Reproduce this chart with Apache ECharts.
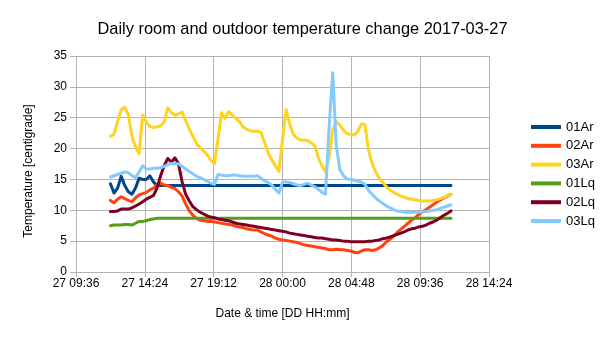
<!DOCTYPE html>
<html>
<head>
<meta charset="utf-8">
<script src="https://cdn.jsdelivr.net/npm/echarts@6/dist/echarts.min.js"></script>
<style>
html,body{margin:0;padding:0;background:#fff;}
#chart{width:605px;height:340px;}
</style>
</head>
<body>
<div id="chart"></div>
<script>
var titleText = 'Daily room and outdoor temperature change 2017-03-27';
var seriesNames = ['01Ar', '02Ar', '03Ar', '01Lq', '02Lq', '03Lq'];
var xTickLabels = ['27 09:36', '27 14:24', '27 19:12', '28 00:00', '28 04:48', '28 09:36', '28 14:24'];

var times = [
  '27 12:00','27 12:15','27 12:30','27 12:45','27 13:00','27 13:15','27 13:30','27 13:45','27 14:00','27 14:15','27 14:30','27 14:45',
  '27 15:00','27 15:15','27 15:30','27 15:45','27 16:00','27 16:15','27 16:30','27 16:45','27 17:00','27 17:15','27 17:30','27 17:45',
  '27 18:00','27 18:15','27 18:30','27 18:45','27 19:00','27 19:15','27 19:30','27 19:45','27 20:00','27 20:15','27 20:30','27 20:45',
  '27 21:00','27 21:15','27 21:30','27 21:45','27 22:00','27 22:15','27 22:30','27 22:45','27 23:00','27 23:15','27 23:30','27 23:45',
  '28 00:00','28 00:15','28 00:30','28 00:45','28 01:00','28 01:15','28 01:30','28 01:45','28 02:00','28 02:15','28 02:30','28 02:45',
  '28 03:00','28 03:15','28 03:30','28 03:45','28 04:00','28 04:15','28 04:30','28 04:45','28 05:00','28 05:15','28 05:30','28 05:45',
  '28 06:00','28 06:15','28 06:30','28 06:45','28 07:00','28 07:15','28 07:30','28 07:45','28 08:00','28 08:15','28 08:30','28 08:45',
  '28 09:00','28 09:15','28 09:30','28 09:45','28 10:00','28 10:15','28 10:30','28 10:45','28 11:00','28 11:15','28 11:30','28 11:45'
];

var ar01 = [
  14.3,12.8,13.6,15.5,14.0,13.0,12.6,13.6,15.2,15.0,15.0,15.6,
  14.6,14.0,14.0,14.0,14.0,14.0,14.0,14.0,14.0,14.0,14.0,14.0,
  14.0,14.0,14.0,14.0,14.0,14.0,14.0,14.0,14.0,14.0,14.0,14.0,
  14.0,14.0,14.0,14.0,14.0,14.0,14.0,14.0,14.0,14.0,14.0,14.0,
  14.0,14.0,14.0,14.0,14.0,14.0,14.0,14.0,14.0,14.0,14.0,14.0,
  14.0,14.0,14.0,14.0,14.0,14.0,14.0,14.0,14.0,14.0,14.0,14.0,
  14.0,14.0,14.0,14.0,14.0,14.0,14.0,14.0,14.0,14.0,14.0,14.0,
  14.0,14.0,14.0,14.0,14.0,14.0,14.0,14.0,14.0,14.0,14.0,14.0
];
var ar02 = [
  11.6,11.2,11.8,12.2,11.9,11.6,11.4,12.0,12.5,12.7,12.9,13.3,
  13.6,14.1,14.4,14.1,14.0,13.7,13.5,13.0,12.3,11.0,9.9,9.2,
  8.7,8.4,8.3,8.2,8.2,8.1,8.0,7.9,7.8,7.7,7.6,7.4,
  7.3,7.2,7.0,6.9,6.8,6.8,6.5,6.2,6.0,5.8,5.5,5.3,
  5.2,5.1,5.0,4.9,4.8,4.6,4.4,4.3,4.2,4.1,4.0,3.9,
  3.8,3.6,3.6,3.7,3.6,3.6,3.5,3.4,3.2,3.1,3.4,3.6,
  3.6,3.5,3.6,3.9,4.3,4.9,5.3,5.8,6.4,6.9,7.4,7.9,
  8.4,8.8,9.3,9.7,10.1,10.5,10.9,11.3,11.7,12.0,12.3,12.6
];
var ar03 = [
  22.0,22.3,24.4,26.3,26.7,25.5,22.0,20.3,19.2,25.4,24.3,23.6,
  23.4,23.5,23.7,24.3,26.6,25.8,25.4,25.6,25.9,24.5,23.2,22.0,
  20.8,20.2,19.6,19.0,18.1,17.5,21.5,25.8,24.9,26.0,25.4,24.9,
  24.4,23.5,23.1,22.9,22.8,22.8,22.6,21.0,19.3,18.2,17.2,16.3,
  21.5,26.3,24.0,22.3,21.7,21.4,21.4,21.3,20.9,20.5,18.5,17.2,
  16.3,18.5,23.0,24.4,23.8,23.0,22.4,22.3,22.2,22.8,24.0,23.9,
  19.7,17.6,16.2,15.2,14.5,13.8,13.3,12.9,12.6,12.3,12.1,11.9,
  11.8,11.7,11.6,11.5,11.5,11.5,11.6,11.7,11.9,12.1,12.4,12.6
];
var lq01 = [
  7.5,7.6,7.6,7.6,7.7,7.7,7.6,7.9,8.2,8.2,8.3,8.5,
  8.6,8.7,8.7,8.7,8.7,8.7,8.7,8.7,8.7,8.7,8.7,8.7,
  8.7,8.7,8.7,8.7,8.7,8.7,8.7,8.7,8.7,8.7,8.7,8.7,
  8.7,8.7,8.7,8.7,8.7,8.7,8.7,8.7,8.7,8.7,8.7,8.7,
  8.7,8.7,8.7,8.7,8.7,8.7,8.7,8.7,8.7,8.7,8.7,8.7,
  8.7,8.7,8.7,8.7,8.7,8.7,8.7,8.7,8.7,8.7,8.7,8.7,
  8.7,8.7,8.7,8.7,8.7,8.7,8.7,8.7,8.7,8.7,8.7,8.7,
  8.7,8.7,8.7,8.7,8.7,8.7,8.7,8.7,8.7,8.7,8.7,8.7
];
var lq02 = [
  9.8,9.8,9.9,10.2,10.2,10.2,10.4,10.7,11.0,11.4,11.8,12.1,
  12.4,13.6,15.6,17.2,18.4,17.8,18.5,17.5,14.6,12.6,11.5,10.6,
  10.1,9.7,9.4,9.1,8.9,8.8,8.6,8.5,8.4,8.3,8.1,7.9,
  7.8,7.7,7.6,7.5,7.4,7.3,7.2,7.1,7.0,6.9,6.8,6.7,
  6.6,6.5,6.3,6.2,6.1,6.0,5.9,5.8,5.7,5.6,5.5,5.5,
  5.4,5.3,5.2,5.2,5.1,5.0,5.0,4.9,4.9,4.9,4.9,4.9,
  5.0,5.0,5.1,5.2,5.4,5.5,5.7,5.9,6.1,6.3,6.5,6.8,
  7.0,7.1,7.3,7.4,7.6,7.9,8.1,8.4,8.8,9.2,9.5,9.9
];
var lq03 = [
  15.4,15.6,15.8,16.0,16.2,16.1,15.6,15.3,16.2,17.2,16.7,16.7,
  16.8,16.8,16.9,17.1,17.4,17.6,17.6,17.5,17.1,16.7,16.3,15.9,
  15.5,15.3,15.0,14.7,14.4,14.2,15.8,15.7,15.6,15.6,15.7,15.7,
  15.6,15.5,15.5,15.5,15.5,15.6,15.2,14.8,14.5,14.1,13.4,12.8,
  14.6,14.6,14.5,14.3,14.1,14.0,14.2,14.4,14.1,13.8,13.4,12.9,
  12.6,23.5,32.3,20.5,16.6,15.6,15.1,15.0,14.9,14.7,14.6,14.2,
  13.2,12.6,12.0,11.5,11.1,10.7,10.4,10.1,9.9,9.8,9.7,9.7,
  9.7,9.7,9.7,9.7,9.8,9.9,10.0,10.1,10.3,10.5,10.7,10.9
];

var seriesValues = [ar01, ar02, ar03, lq01, lq02, lq03];
var colors = ['#004586', '#ff420e', '#ffd320', '#579d1c', '#7e0021', '#83caff'];

// minutes since the first tick label (27 09:36)
function toMinutes(s) {
  var d = parseInt(s.slice(0, 2), 10);
  var hm = s.slice(3).split(':');
  return (d - 27) * 1440 + parseInt(hm[0], 10) * 60 + parseInt(hm[1], 10) - (9 * 60 + 36);
}
var tickStep = toMinutes(xTickLabels[1]) - toMinutes(xTickLabels[0]);
var xMax = toMinutes(xTickLabels[xTickLabels.length - 1]);

var FONT = 'Liberation Sans, Arial, sans-serif';
var chart = echarts.init(document.getElementById('chart'), null, {renderer: 'canvas'});
chart.setOption({
  animation: false,
  backgroundColor: '#ffffff',
  color: colors,
  textStyle: {fontFamily: FONT},
  title: {
    text: titleText,
    left: 'center',
    top: 16,
    textStyle: {fontFamily: FONT, fontSize: 16.4, fontWeight: 'normal', color: '#000'}
  },
  legend: {
    orient: 'vertical',
    left: 526,
    top: 115,
    icon: 'rect',
    itemWidth: 30,
    itemHeight: 4,
    itemGap: 4.8,
    textStyle: {fontFamily: FONT, fontSize: 13, color: '#000', lineHeight: 14},
    data: seriesNames
  },
  grid: {left: 76, right: 116, top: 56, bottom: 68, containLabel: false},
  xAxis: {
    type: 'value',
    min: 0,
    max: xMax,
    interval: tickStep,
    name: 'Date & time [DD HH:mm]',
    nameLocation: 'middle',
    nameGap: 36,
    nameTextStyle: {fontFamily: FONT, fontSize: 12, color: '#000'},
    axisLine: {show: true, lineStyle: {color: '#b3b3b3', width: 1}},
    axisTick: {show: true, length: 5, lineStyle: {color: '#b3b3b3'}},
    axisLabel: {
      fontFamily: FONT, fontSize: 12, color: '#000', margin: 6,
      formatter: function (v) {
        var i = Math.round(v / tickStep);
        return xTickLabels[i] !== undefined ? xTickLabels[i] : '';
      }
    },
    splitLine: {show: true, lineStyle: {color: '#b3b3b3', width: 1}}
  },
  yAxis: {
    type: 'value',
    min: 0,
    max: 35,
    interval: 5,
    name: 'Temperature [centigrade]',
    nameLocation: 'middle',
    nameGap: 41,
    nameTextStyle: {fontFamily: FONT, fontSize: 12, color: '#000', padding: [0, 14, 0, 0]},
    axisLine: {show: true, lineStyle: {color: '#b3b3b3', width: 1}},
    axisTick: {show: true, length: 6, lineStyle: {color: '#b3b3b3'}},
    axisLabel: {fontFamily: FONT, fontSize: 12, color: '#000', margin: 9},
    splitLine: {show: true, lineStyle: {color: '#b3b3b3', width: 1}}
  },
  series: seriesNames.map(function (name, si) {
    return {
      name: name,
      type: 'line',
      showSymbol: false,
      symbol: 'none',
      lineStyle: {width: 3, color: colors[si], cap: 'round', join: 'round'},
      itemStyle: {color: colors[si]},
      data: times.map(function (t, i) { return [toMinutes(t), seriesValues[si][i]]; })
    };
  })
});
</script>
</body>
</html>
